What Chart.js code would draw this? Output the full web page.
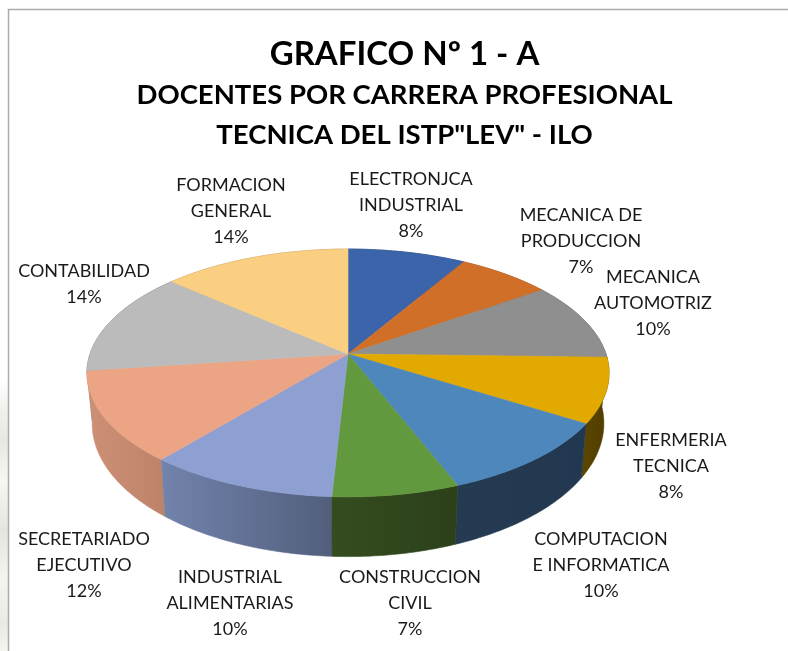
<!DOCTYPE html>
<html><head><meta charset="utf-8">
<style>
html,body{margin:0;padding:0;background:#fff;overflow:hidden}
#wrap{position:relative;width:788px;height:651px}
#strip{position:absolute;left:0;top:0;width:8px;height:651px;background:linear-gradient(to bottom,#fff 0,#fff 380px,#f0f1ec 410px,#e6e8e1 440px,#f6f7f3 480px,#e4e6de 530px,#f3f4f0 580px,#e8eae3 625px,#f4f5f1 651px)}
canvas{position:absolute;left:0;top:0}
</style>
<script src="https://cdn.jsdelivr.net/npm/chart.js@4"></script>
</head><body><div id="wrap"><div id="strip"></div><canvas id="c" width="788" height="651"></canvas></div>
<script>
const categories=[["ELECTRONJCA","INDUSTRIAL"],["MECANICA DE","PRODUCCION"],["MECANICA","AUTOMOTRIZ"],["ENFERMERIA","TECNICA"],["COMPUTACION","E INFORMATICA"],["CONSTRUCCION","CIVIL"],["INDUSTRIAL","ALIMENTARIAS"],["SECRETARIADO","EJECUTIVO"],["CONTABILIDAD"],["FORMACION","GENERAL"]];
const docentes=[5,4,6,5,6,4,6,7,8,8];
const topColors=["#3C64AA","#D06F28","#8F8F8F","#E2A900","#4D87BC","#62993E","#8E9FD1","#EBA585","#BBBBBB","#FACF82"];
const sideLeft=["#243C66","#7D4318","#565656","#5C4600","#243B52","#344D1F","#7283AC","#CD9077","#707070","#967C4E"];
const sideRight=["#243C66","#7D4318","#565656","#4F3C00","#213850","#2C401A","#525E7C","#BD8369","#707070","#967C4E"];
const titleText="GRAFICO Nº 1 - A";
const subtitleLines=["DOCENTES POR CARRERA PROFESIONAL","TECNICA DEL ISTP\"LEV\" - ILO"];
const labelAnchors=[[411,179],[581,215],[653,277],[671,440],[601,539],[410,577],[230,577],[84,539],[84,271],[231,185]];
const tilt={shiftX:-56.5,radiusX:258,radiusY:121,k:0.153,depth:49,shrinkX:0.98,growY:1.075,steps:48};
const FONT="Lato, Carlito, sans-serif";

function pt(el,a,low){
  const u=Math.cos(a),v=Math.sin(a),d=1-tilt.k*v;
  return [el.x+tilt.shiftX+(low?tilt.shrinkX:1)*tilt.radiusX*u/d, el.y+(low?tilt.growY:1)*tilt.radiusY*v/d+(low?tilt.depth:0)];
}
function arcPts(el,low){
  const r=[];
  for(let i=0;i<=tilt.steps;i++) r.push(pt(el,el.startAngle+(el.endAngle-el.startAngle)*i/tilt.steps,low));
  return r;
}
const pie3d={
  id:"pie3d",
  beforeDraw(chart){
    const c=chart.ctx;c.save();c.strokeStyle="#ABABAB";c.lineWidth=1.5;
    c.beginPath();c.moveTo(8.5,651);c.lineTo(8.5,9.5);c.lineTo(788,9.5);c.stroke();c.restore();
  },
  beforeDatasetsDraw(chart){
    const c=chart.ctx,arcs=chart.getDatasetMeta(0).data,total=docentes.reduce((a,b)=>a+b,0);
    c.save();c.lineJoin="round";
    const mid=el=>Math.sin((el.startAngle+el.endAngle)/2);
    arcs.map((el,i)=>[el,i]).sort((p,q)=>mid(p[0])-mid(q[0])).forEach(([el,i])=>{
      const t=arcPts(el,false),b=arcPts(el,true);
      const xs=t.concat(b).map(p=>p[0]);
      const g=c.createLinearGradient(Math.min(...xs),0,Math.max(...xs),0);
      g.addColorStop(0,sideLeft[i]);g.addColorStop(1,sideRight[i]);
      c.beginPath();
      t.forEach((p,j)=>j?c.lineTo(p[0],p[1]):c.moveTo(p[0],p[1]));
      b.reverse().forEach(p=>c.lineTo(p[0],p[1]));
      c.closePath();c.fillStyle=g;c.strokeStyle=g;c.lineWidth=0.6;c.fill();c.stroke();
    });
    arcs.forEach((el,i)=>{
      const t=arcPts(el,false);
      c.beginPath();c.moveTo(el.x+tilt.shiftX,el.y);
      t.forEach(p=>c.lineTo(p[0],p[1]));
      c.closePath();c.fillStyle=topColors[i];c.strokeStyle=topColors[i];c.lineWidth=0.6;c.fill();c.stroke();
    });
    c.font="18px "+FONT;c.fillStyle="#1A1A1A";c.textAlign="center";c.textBaseline="middle";
    arcs.forEach((el,i)=>{
      const lines=categories[i].concat(Math.round(docentes[i]/total*100)+"%");
      lines.forEach((s,j)=>c.fillText(s,labelAnchors[i][0],labelAnchors[i][1]+j*26.2));
    });
    c.restore();
    return false;
  }
};
new Chart(document.getElementById("c"),{
  type:"pie",
  data:{labels:categories.map(l=>l.join(" ")),datasets:[{data:docentes,backgroundColor:topColors,borderWidth:0}]},
  plugins:[pie3d],
  options:{
    responsive:false,animation:false,
    layout:{padding:{left:21,right:0,top:0,bottom:98.5}},
    plugins:{
      legend:{display:false},tooltip:{enabled:false},
      title:{display:true,text:titleText,color:"#000",font:{family:FONT,size:33,weight:"bold",lineHeight:1.2},padding:{top:34.4,bottom:1.5}},
      subtitle:{display:true,text:subtitleLines,color:"#000",font:{family:FONT,size:27.5,weight:"bold",lineHeight:1.455},padding:0}
    }
  }
});
</script></body></html>
